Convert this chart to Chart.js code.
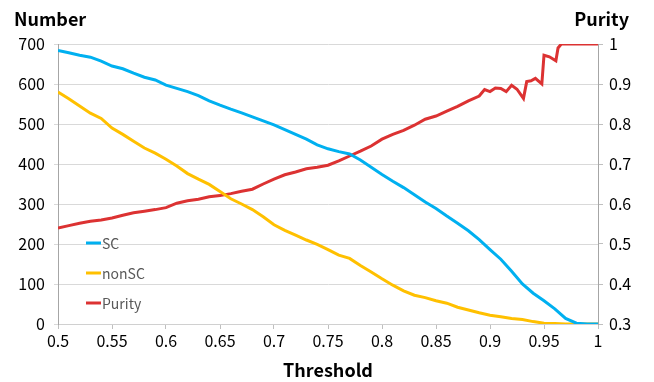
<!DOCTYPE html>
<html>
<head>
<meta charset="utf-8">
<script src="https://cdn.jsdelivr.net/npm/chart.js@4.4.1/dist/chart.umd.min.js"></script>
<style>
  html, body { margin: 0; padding: 0; background: #fff; }
  #wrap { width: 654px; height: 382px; }
</style>
</head>
<body>
<div id="wrap"><canvas id="purityChart" width="654" height="382"></canvas></div>
<script>
// threshold grid for SC / nonSC counts
const thresholds = [0.50, 0.51, 0.52, 0.53, 0.54, 0.55, 0.56, 0.57, 0.58, 0.59,
                    0.60, 0.61, 0.62, 0.63, 0.64, 0.65, 0.66, 0.67, 0.68, 0.69,
                    0.70, 0.71, 0.72, 0.73, 0.74, 0.75, 0.76, 0.77, 0.78, 0.79,
                    0.80, 0.81, 0.82, 0.83, 0.84, 0.85, 0.86, 0.87, 0.88, 0.89,
                    0.90, 0.91, 0.92, 0.93, 0.94, 0.95, 0.96, 0.97, 0.98, 0.99, 1.00];
const scCounts = [684, 678, 672, 667, 657, 645, 638, 627, 617, 610,
                  597, 589, 581, 571, 558, 547, 537, 528, 518, 508,
                  498, 486, 474, 462, 448, 438, 431, 425, 410, 392,
                  374, 357, 341, 323, 305, 289, 270, 252, 233, 211,
                  186, 162, 132, 100, 77, 58, 38, 14, 2, 0, 0];
const nonScCounts = [580, 563, 545, 527, 514, 490, 474, 457, 440, 427,
                     412, 395, 376, 362, 349, 331, 313, 300, 286, 268,
                     248, 234, 222, 210, 199, 186, 172, 164, 146, 130,
                     113, 97, 83, 72, 66, 58, 52, 42, 35, 28,
                     22, 18, 14, 11, 6, 2, 1, 0, 0, 0, 0];

// purity has its own (finer at the end) threshold grid
const purityThresholds = [0.50, 0.51, 0.52, 0.53, 0.54, 0.55, 0.56, 0.57, 0.58, 0.59,
                          0.60, 0.61, 0.62, 0.63, 0.64, 0.65, 0.66, 0.67, 0.68, 0.69,
                          0.70, 0.71, 0.72, 0.73, 0.74, 0.75, 0.76, 0.77, 0.78, 0.79,
                          0.80, 0.81, 0.82, 0.83, 0.84, 0.85, 0.86, 0.87, 0.88, 0.89,
                          0.895, 0.90, 0.905, 0.91, 0.915, 0.92, 0.925, 0.931, 0.934, 0.938,
                          0.942, 0.948, 0.950, 0.955, 0.961, 0.963, 0.966, 1.00];
const purityValues = [0.540, 0.546, 0.552, 0.557, 0.560, 0.565, 0.572, 0.578, 0.582, 0.586,
                      0.591, 0.602, 0.608, 0.612, 0.618, 0.621, 0.626, 0.632, 0.637, 0.650,
                      0.662, 0.673, 0.680, 0.688, 0.692, 0.697, 0.708, 0.720, 0.732, 0.745,
                      0.762, 0.774, 0.784, 0.797, 0.812, 0.820, 0.832, 0.844, 0.858, 0.870,
                      0.886, 0.881, 0.890, 0.889, 0.881, 0.897, 0.887, 0.864, 0.906, 0.908,
                      0.914, 0.900, 0.972, 0.968, 0.958, 0.990, 1.000, 1.000];

const seriesNames = ["SC", "nonSC", "Purity"];
const seriesColors = ["#00b0f0", "#ffc000", "#dc3232"];

const FONT = "'Noto Sans CJK SC', 'Noto Sans', sans-serif";

function toPoints(xs, ys) {
    return xs.map((x, i) => ({ x: x, y: ys[i] }));
}

function fmt(v) {
    return String(Number(v.toFixed(2)));
}

// axis titles (horizontal, above the axes) and the inline legend
const decorPlugin = {
    id: 'decor',
    afterDraw(chart) {
        const ctx = chart.ctx;
        const area = chart.chartArea;
        ctx.save();
        ctx.fillStyle = '#000';
        ctx.font = "bold 18px " + FONT;
        ctx.textBaseline = 'middle';
        ctx.textAlign = 'left';
        ctx.fillText("Number", 14, 19);
        ctx.textAlign = 'right';
        ctx.fillText("Purity", 629, 19);
        ctx.textAlign = 'center';
        ctx.fillText("Threshold", (area.left + area.right) / 2, 370);

        ctx.font = "14px " + FONT;
        ctx.textAlign = 'left';
        const legendY = [243, 273, 303];
        seriesNames.forEach(function (name, i) {
            ctx.strokeStyle = seriesColors[i];
            ctx.lineWidth = 3;
            ctx.beginPath();
            ctx.moveTo(area.left + 28, legendY[i]);
            ctx.lineTo(area.left + 43, legendY[i]);
            ctx.stroke();
            ctx.fillStyle = '#595959';
            ctx.fillText(name, area.left + 44, legendY[i] + 1);
        });
        ctx.restore();
    }
};

document.addEventListener("DOMContentLoaded", function () {
    const ctx = document.getElementById("purityChart").getContext("2d");

    new Chart(ctx, {
        type: 'line',
        data: {
            datasets: [
                {
                    label: seriesNames[0],
                    data: toPoints(thresholds, scCounts),
                    borderColor: seriesColors[0],
                    yAxisID: 'y'
                },
                {
                    label: seriesNames[1],
                    data: toPoints(thresholds, nonScCounts),
                    borderColor: seriesColors[1],
                    yAxisID: 'y'
                },
                {
                    label: seriesNames[2],
                    data: toPoints(purityThresholds, purityValues),
                    borderColor: seriesColors[2],
                    yAxisID: 'y1'
                }
            ]
        },
        options: {
            responsive: false,
            animation: false,
            layout: { padding: { top: 44 } },
            elements: {
                point: { radius: 0 },
                line: { borderWidth: 3, tension: 0 }
            },
            plugins: {
                legend: { display: false },
                tooltip: { enabled: false }
            },
            scales: {
                x: {
                    type: 'linear',
                    min: 0.5,
                    max: 1,
                    afterFit: function (s) { s.height = 58; },
                    ticks: {
                        stepSize: 0.05,
                        color: '#000',
                        font: { family: FONT, size: 16 },
                        padding: 2,
                        maxRotation: 0,
                        callback: fmt
                    },
                    grid: { drawOnChartArea: false, tickLength: 5, color: '#bfbfbf' },
                    border: { display: true, color: '#d0d0d0' }
                },
                y: {
                    position: 'left',
                    min: 0,
                    max: 700,
                    afterFit: function (s) { s.width = 58; },
                    ticks: {
                        stepSize: 100,
                        color: '#000',
                        font: { family: FONT, size: 16 },
                        padding: 9
                    },
                    grid: { color: '#d9d9d9', tickLength: 4 },
                    border: { display: true, color: '#a6a6a6' }
                },
                y1: {
                    position: 'right',
                    min: 0.3,
                    max: 1,
                    afterFit: function (s) { s.width = 56; },
                    ticks: {
                        stepSize: 0.1,
                        color: '#000',
                        font: { family: FONT, size: 16 },
                        padding: 6,
                        callback: fmt
                    },
                    grid: { drawOnChartArea: false, tickLength: 5, color: '#bfbfbf' },
                    border: { display: true, color: '#a6a6a6' }
                }
            }
        },
        plugins: [decorPlugin]
    });
});
</script>
</body>
</html>
